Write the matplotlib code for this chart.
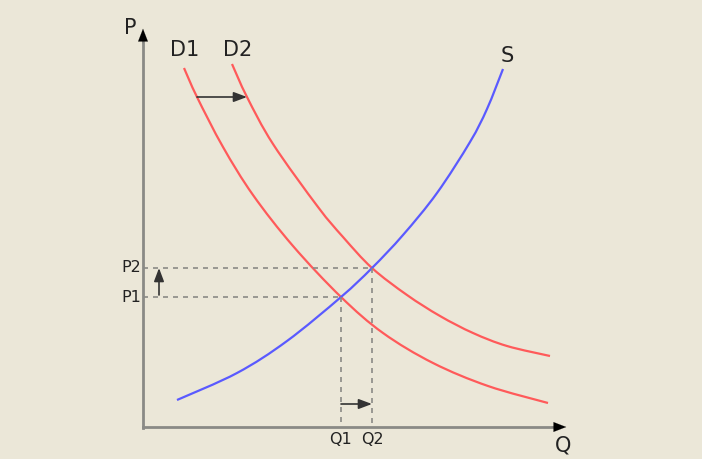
import numpy as np
import matplotlib
matplotlib.use('Agg')
import matplotlib.pyplot as plt
from matplotlib.path import Path
from matplotlib.patches import PathPatch

# points (Q, P), origin at the axes corner
d1_q = [41, 54, 80, 110, 150, 198, 240, 290, 345, 405]
d1_p = [359, 330, 280, 232, 181, 130, 94, 64, 41, 24]
d2_q = [89, 104, 130, 175, 200, 229, 264, 297, 330, 364, 407]
d2_p = [363, 330, 283, 220, 190, 159, 132, 111, 94, 81, 71]
s_q = [34, 94, 144, 198, 229, 260, 294, 327, 344, 360]
s_p = [27, 54, 86, 130, 159, 192, 234, 285, 318, 358]

q1, q2 = 198, 229
p1, p2 = 130, 159
price_labels = ['P1', 'P2']
qty_labels = ['Q1', 'Q2']

bg = '#ebe7d8'
red = '#ff5a5a'
blue = '#5a5aff'
grey = '#8a8a86'


def smooth_curve(ax, xs, ys, color):
    # catmull-rom through the points, drawn as bezier segments
    pts = np.column_stack([xs, ys]).astype(float)
    ext = np.vstack([pts[0], pts, pts[-1]])
    verts = [pts[0]]
    codes = [Path.MOVETO]
    for i in range(1, len(ext) - 2):
        p0, p1_, p2_, p3 = ext[i - 1], ext[i], ext[i + 1], ext[i + 2]
        verts += [p1_ + (p2_ - p0) / 6, p2_ - (p3 - p1_) / 6, p2_]
        codes += [Path.CURVE4] * 3
    ax.add_patch(PathPatch(Path(verts, codes), fill=False, edgecolor=color,
                           lw=1.6, capstyle='butt'))


fig = plt.figure(figsize=(7.02, 4.59), dpi=100, facecolor=bg)
ax = fig.add_axes([0, 0, 1, 1])
ax.set_facecolor(bg)
ax.set_xlim(-143, 559)
ax.set_ylim(-32, 427)
ax.axis('off')

# axes with arrow heads
ax.plot([0, 0], [-1, 390], color=grey, lw=2)
ax.plot([0, 416], [0, 0], color=grey, lw=2)
ax.annotate('', xy=(0, 401), xytext=(0, 381),
            arrowprops=dict(arrowstyle='-|>,head_length=0.9,head_width=0.35', color='black', lw=0.1))
ax.annotate('', xy=(426, 0), xytext=(406, 0),
            arrowprops=dict(arrowstyle='-|>,head_length=0.9,head_width=0.35', color='black', lw=0.1))
ax.text(-13, 399, 'P', fontsize=15, ha='center', va='center', color='#222')
ax.text(420, -18, 'Q', fontsize=15, ha='center', va='center', color='#222')

# curves
smooth_curve(ax, d1_q, d1_p, red)
smooth_curve(ax, d2_q, d2_p, red)
smooth_curve(ax, s_q, s_p, blue)
ax.text(42, 377, 'D1', fontsize=15, ha='center', va='center', color='#222')
ax.text(95, 377, 'D2', fontsize=15, ha='center', va='center', color='#222')
ax.text(364, 371, 'S', fontsize=15, ha='center', va='center', color='#222')

# dashed guides
for q, p in [(q1, p1), (q2, p2)]:
    ax.plot([0, q], [p, p], color=grey, lw=1.2, ls=(0, (3, 3)))
    ax.plot([q, q], [p, 0], color=grey, lw=1.2, ls=(0, (3, 3)))

ax.text(-2, p1, price_labels[0], fontsize=11.5, ha='right', va='center', color='#222')
ax.text(-2, p2, price_labels[1], fontsize=11.5, ha='right', va='center', color='#222')
ax.text(q1, -13, qty_labels[0], fontsize=11.5, ha='center', va='center', color='#222')
ax.text(q2, -13, qty_labels[1], fontsize=11.5, ha='center', va='center', color='#222')

# shift arrows
arr = dict(arrowstyle='-|>,head_length=0.8,head_width=0.3', color='#333', lw=1.2, shrinkA=0, shrinkB=0)
ax.annotate('', xy=(104, 330), xytext=(54, 330), arrowprops=arr)
ax.annotate('', xy=(16, 159), xytext=(16, 132), arrowprops=arr)
ax.annotate('', xy=(q2, 23), xytext=(q1, 23), arrowprops=arr)

fig.savefig('out.png', dpi=100, facecolor=bg)
